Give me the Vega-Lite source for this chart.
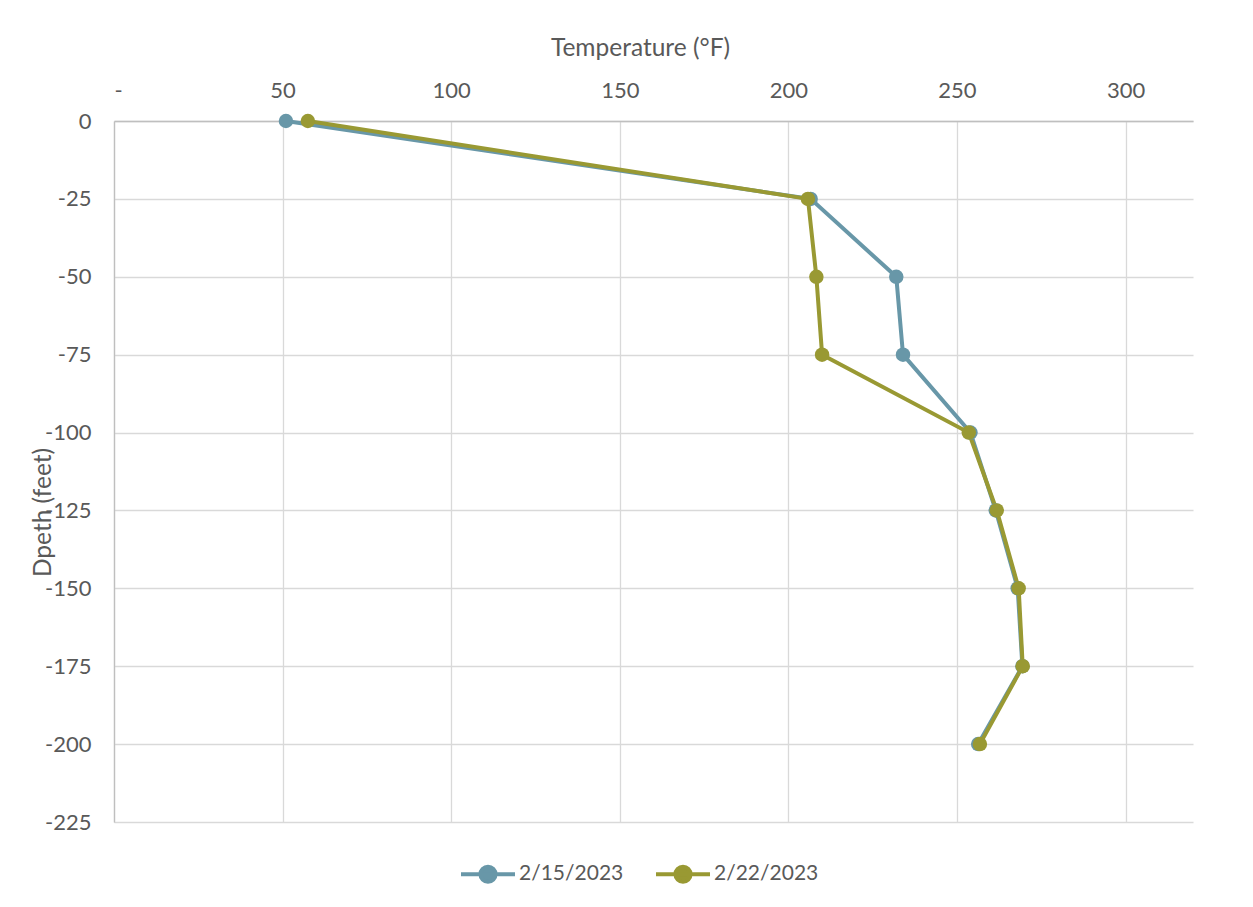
{
  "$schema": "https://vega.github.io/schema/vega-lite/v6.json",
  "autosize": {"type": "none"},
  "width": 1079,
  "height": 701,
  "padding": {"left": 114, "top": 121, "right": 60, "bottom": 85},
  "background": "white",
  "config": {
    "font": "Lato",
    "view": {"stroke": null},
    "axis": {"labelColor": "#595959", "titleColor": "#595959", "labelFontSize": 22, "titleFontSize": 24.5, "titleFontWeight": "normal", "gridColor": "#d9d9d9", "gridWidth": 1.3, "ticks": false, "domainColor": "#bfbfbf", "domainWidth": 1.3}
  },
  "data": {
    "values": [
      {"date": "2/15/2023", "depth": 0, "temp": 51},
      {"date": "2/15/2023", "depth": -25, "temp": 206.6},
      {"date": "2/15/2023", "depth": -50, "temp": 232},
      {"date": "2/15/2023", "depth": -75, "temp": 234},
      {"date": "2/15/2023", "depth": -100, "temp": 254},
      {"date": "2/15/2023", "depth": -125, "temp": 261.5},
      {"date": "2/15/2023", "depth": -150, "temp": 268},
      {"date": "2/15/2023", "depth": -175, "temp": 269.4},
      {"date": "2/15/2023", "depth": -200, "temp": 256.3},
      {"date": "2/22/2023", "depth": 0, "temp": 57.5},
      {"date": "2/22/2023", "depth": -25, "temp": 205.8},
      {"date": "2/22/2023", "depth": -50, "temp": 208.3},
      {"date": "2/22/2023", "depth": -75, "temp": 210},
      {"date": "2/22/2023", "depth": -100, "temp": 253.5},
      {"date": "2/22/2023", "depth": -125, "temp": 261.8},
      {"date": "2/22/2023", "depth": -150, "temp": 268.3},
      {"date": "2/22/2023", "depth": -175, "temp": 269.5},
      {"date": "2/22/2023", "depth": -200, "temp": 256.8}
    ]
  },
  "mark": {"type": "line", "strokeWidth": 4, "point": {"filled": true, "size": 210, "opacity": 1}},
  "encoding": {
    "x": {
      "field": "temp", "type": "quantitative",
      "scale": {"domain": [0, 320], "nice": false, "zero": false},
      "axis": {"orient": "top", "values": [0, 50, 100, 150, 200, 250, 300], "labelExpr": "datum.value == 0 ? '-' : datum.label", "labelPadding": 19, "title": "Temperature (°F)", "titleX": 526, "titleY": -73, "titleBaseline": "middle"}
    },
    "y": {
      "field": "depth", "type": "quantitative",
      "scale": {"domain": [-225, 0], "nice": false},
      "axis": {"values": [0, -25, -50, -75, -100, -125, -150, -175, -200, -225], "labelExpr": "replace(datum.label, '\u2212', '-')", "labelPadding": 23, "title": "Dpeth (feet)", "titleX": -71, "titleY": 391, "titleAngle": 270, "titleAlign": "center", "titleBaseline": "middle"}
    },
    "color": {
      "field": "date", "type": "nominal",
      "scale": {"domain": ["2/15/2023", "2/22/2023"], "range": ["#6897a8", "#999933"]},
      "legend": {"title": null, "orient": "none", "direction": "horizontal", "legendX": 345, "legendY": 724, "labelFontSize": 21, "labelColor": "#595959", "symbolType": "M-1,0H1M-0.28,0A0.28,0.28 0 1,0 0.28,0A0.28,0.28 0 1,0 -0.28,0Z", "symbolSize": 2916, "symbolStrokeWidth": 4, "symbolOpacity": 1, "columnPadding": 24, "labelOffset": 2}
    },
    "order": {"field": "depth", "sort": "descending"}
  }
}
